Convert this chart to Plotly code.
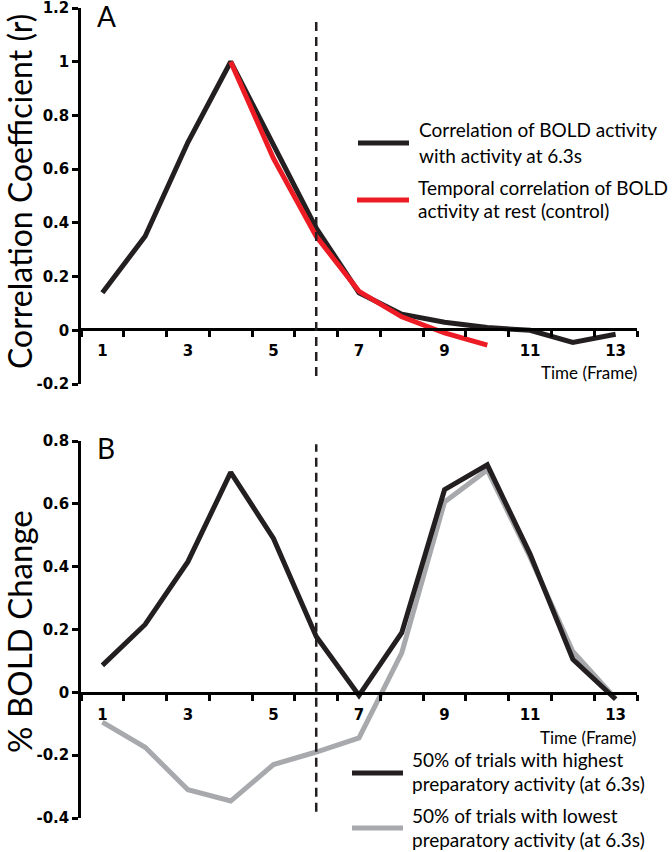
import plotly.graph_objects as go

W, H = 672, 852

# ---------------- data ----------------
frames = list(range(1, 14))
corr_task = [0.14, 0.35, 0.70, 1.00, 0.69, 0.38, 0.14, 0.06, 0.03, 0.01, 0.00, -0.045, -0.015]
frames_rest = [4, 5, 6, 7, 8, 9, 10]
corr_rest = [1.00, 0.64, 0.35, 0.145, 0.05, -0.01, -0.055]

bold_high = [0.086, 0.216, 0.416, 0.70, 0.49, 0.178, -0.01, 0.19, 0.645, 0.724, 0.44, 0.105, -0.022]
bold_low = [-0.095, -0.175, -0.31, -0.346, -0.23, -0.19, -0.145, 0.126, 0.606, 0.708, 0.43, 0.13, -0.02]

odd_ticks = [1, 3, 5, 7, 9, 11, 13]
corr_ticks = [-0.2, 0, 0.2, 0.4, 0.6, 0.8, 1.0, 1.2]
corr_ticktext = ["-0.2", "0", "0.2", "0.4", "0.6", "0.8", "1", "1.2"]
bold_ticks = [-0.4, -0.2, 0, 0.2, 0.4, 0.6, 0.8]
bold_ticktext = ["-0.4", "-0.2", "0", "0.2", "0.4", "0.6", "0.8"]
event_frame = 6

BLACK = "#231f20"
RED = "#ed1c24"
GREY = "#a7a9ac"

def px(x):
    return x / W

def py(y):
    return (H - y) / H

fig = go.Figure()
fig.add_trace(go.Scatter(x=frames, y=corr_task, mode="lines",
                         line=dict(color=BLACK, width=5), xaxis="x", yaxis="y", showlegend=False))
fig.add_trace(go.Scatter(x=frames_rest, y=corr_rest, mode="lines",
                         line=dict(color=RED, width=5), xaxis="x", yaxis="y", showlegend=False))
fig.add_trace(go.Scatter(x=frames, y=bold_low, mode="lines",
                         line=dict(color=GREY, width=5), xaxis="x2", yaxis="y2", showlegend=False))
fig.add_trace(go.Scatter(x=frames, y=bold_high, mode="lines",
                         line=dict(color=BLACK, width=5), xaxis="x2", yaxis="y2", showlegend=False))

tickfont = dict(family="DejaVu Sans", size=15, color="black", weight="bold")
xdom = [px(81), px(637)]

def xax(pos):
    return dict(domain=xdom, range=[0.5, 13.5], anchor="free", position=pos, automargin=False,
                showline=True, linecolor="black", linewidth=2.5,
                tickvals=odd_ticks, ticks="", ticklabelstandoff=7, ticklabeloverflow="allow",
                minor=dict(ticks="outside", tick0=0.5, dtick=1, ticklen=6, tickwidth=2.5, tickcolor="black"),
                showgrid=False, zeroline=False, tickfont=tickfont)

def yax(dom, rng, tv, tt, anchor):
    return dict(domain=dom, range=rng, anchor=anchor, tickvals=tv, ticktext=tt, automargin=False,
                showline=True, linecolor="black", linewidth=2.5, ticklabeloverflow="allow",
                ticks="outside", ticklen=6, tickwidth=2.5, tickcolor="black",
                showgrid=False, zeroline=False, tickfont=tickfont)

fig.update_layout(
    width=W, height=H,
    margin=dict(l=0, r=0, t=0, b=0),
    paper_bgcolor="white", plot_bgcolor="white",
    xaxis=xax(py(329)),
    yaxis=yax([py(384), py(8)], [-0.2, 1.2], corr_ticks, corr_ticktext, "x"),
    xaxis2=xax(py(693)),
    yaxis2=yax([py(818), py(441)], [-0.4, 0.8], bold_ticks, bold_ticktext, "x2"),
)

# dashed event lines
fig.add_shape(type="line", xref="x", yref="y", x0=event_frame, x1=event_frame, y0=-0.17, y1=1.17,
              line=dict(color=BLACK, width=2.5, dash="9px,6px"))
fig.add_shape(type="line", xref="x2", yref="y2", x0=event_frame, x1=event_frame, y0=-0.38, y1=0.79,
              line=dict(color=BLACK, width=2.5, dash="9px,6px"))

def ann(text, x, y, size=19, xanchor="left", family="Lato", angle=0):
    fig.add_annotation(text=text, xref="paper", yref="paper", x=px(x), y=py(y),
                       xanchor=xanchor, yanchor="middle", showarrow=False, textangle=angle,
                       borderpad=0,
                       font=dict(family=family, size=size, color="black"))

# axis titles
ann("Correlation Coefficient (r)", 19, 192, size=32, xanchor="center", angle=-90)
ann("% BOLD Change", 19, 632, size=33, xanchor="center", angle=-90)
ann("Time (Frame)", 638, 372, size=17, xanchor="right")
ann("Time (Frame)", 637, 737, size=17, xanchor="right")

# panel letters
ann("A", 96, 16, size=28)
ann("B", 96, 448, size=28)

# legends
def leg_line(x0, x1, y, color):
    fig.add_shape(type="line", xref="paper", yref="paper", x0=px(x0), x1=px(x1), y0=py(y), y1=py(y),
                  line=dict(color=color, width=5))

leg_line(358, 409, 143, BLACK)
leg_line(357, 409, 200, RED)
ann("Correlation of BOLD activity", 418, 130)
ann("with activity at 6.3s", 418, 155)
ann("Temporal correlation of BOLD", 417, 188)
ann("activity at rest (control)", 417, 211)

leg_line(352, 403, 773, BLACK)
leg_line(352, 403, 828, GREY)
ann("50% of trials with highest", 411, 759)
ann("preparatory activity (at 6.3s)", 411, 783)
ann("50% of trials with lowest", 411, 815)
ann("preparatory activity (at 6.3s)", 411, 839)

fig.write_html("out.html", config={"displayModeBar": False},
               post_script="document.body.style.margin='0';document.body.style.overflow='hidden';")
